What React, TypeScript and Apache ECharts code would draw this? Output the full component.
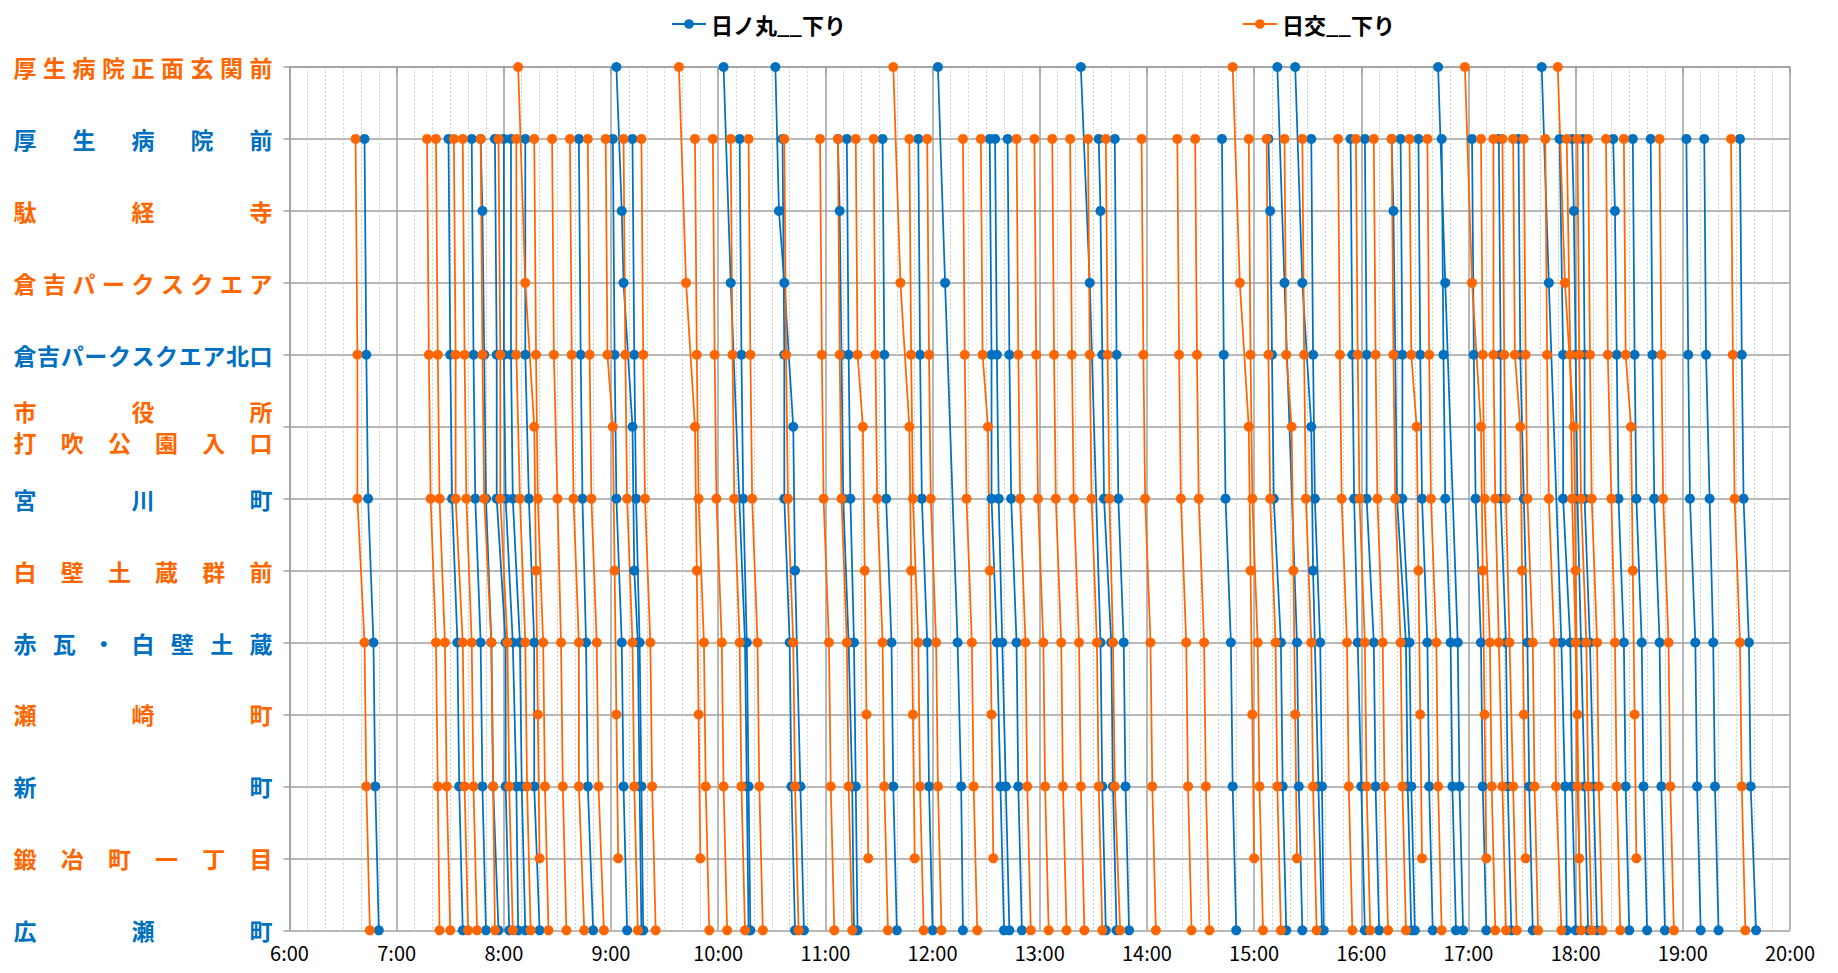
import React, { useEffect, useRef } from 'react';
import * as echarts from 'echarts';

// Stops (top → bottom) and the colour of each stop label
const STOPS = [
  '厚生病院正面玄関前',
  '厚生病院前',
  '駄経寺',
  '倉吉パークスクエア',
  '倉吉パークスクエア北口',
  '市役所\n打吹公園入口',
  '宮川町',
  '白壁土蔵群前',
  '赤瓦・白壁土蔵',
  '瀬崎町',
  '新町',
  '鍛冶町一丁目',
  '広瀬町',
];
const STOP_COLOR = ['o', 'b', 'o', 'o', 'b', 'o', 'b', 'o', 'b', 'o', 'b', 'o', 'b'];

const SERIES_NAMES = ['日ノ丸__下り', '日交__下り'];

// Each trip: "stopIndex@H:MM" for every stop that is served
const HINOMARU = [
  '1@6:42 4@6:43 6@6:44 8@6:47 10@6:48 12@6:50',
  '1@7:29 4@7:30 6@7:31 8@7:34 10@7:35 12@7:37',
  '1@7:42 4@7:43 6@7:44 8@7:47 10@7:48 12@7:50',
  '1@7:47 2@7:48 4@7:49 6@7:50 8@7:53 10@7:54 12@7:57',
  '1@7:55 4@7:56 6@7:56 8@8:01 10@8:01 12@8:03',
  '1@8:00 4@8:00 6@8:01 8@8:05 10@8:07 12@8:08',
  '1@8:04 4@8:04 6@8:05 8@8:09 10@8:10 12@8:12',
  '1@8:12 4@8:12 6@8:14 8@8:17 10@8:17 12@8:20',
  '1@8:42 4@8:43 6@8:44 8@8:46 10@8:47 12@8:50',
  '1@9:01 4@9:02 6@9:03 8@9:06 10@9:07 12@9:09',
  '0@9:03 2@9:06 3@9:07 5@9:12 7@9:13 8@9:15 10@9:16 12@9:17',
  '1@9:12 4@9:13 6@9:14 8@9:16 10@9:17 12@9:18',
  '0@10:03 3@10:07 8@10:15 10@10:16 12@10:17',
  '1@10:12 4@10:13 6@10:14 8@10:16 10@10:17 12@10:18',
  '0@10:32 2@10:34 3@10:37 5@10:42 7@10:43 10@10:46 12@10:48',
  '1@10:36 4@10:37 6@10:37 8@10:40 10@10:41 12@10:43',
  '1@11:07 2@11:08 4@11:09 6@11:10 8@11:13 10@11:15 12@11:16',
  '1@11:12 4@11:13 6@11:14 8@11:16 10@11:17 12@11:18',
  '1@11:32 4@11:33 6@11:34 8@11:37 10@11:38 12@11:40',
  '1@11:52 4@11:53 6@11:54 8@11:57 10@11:58 12@12:00',
  '0@12:03 3@12:07 8@12:14 10@12:16 12@12:17',
  '1@12:32 4@12:33 6@12:33 8@12:36 10@12:38 12@12:40',
  '1@12:35 4@12:36 6@12:37 8@12:39 10@12:41 12@12:43',
  '1@12:42 4@12:43 6@12:44 8@12:47 10@12:48 12@12:50',
  '0@13:23 3@13:28 8@13:34 10@13:35 12@13:37',
  '1@13:33 2@13:34 4@13:35 6@13:36 8@13:40 10@13:41 12@13:43',
  '1@13:42 4@13:43 6@13:44 8@13:47 10@13:48 12@13:50',
  '1@14:42 4@14:43 6@14:44 8@14:47 10@14:48 12@14:50',
  '1@15:08 2@15:09 4@15:10 6@15:11 8@15:15 10@15:16 12@15:18',
  '0@15:13 3@15:17 8@15:24 10@15:25 12@15:27',
  '0@15:23 3@15:27 5@15:32 7@15:33 10@15:36 12@15:38',
  '1@15:32 4@15:33 6@15:34 8@15:37 10@15:38 12@15:39',
  '1@15:54 4@15:55 6@15:56 8@15:58 10@16:00 12@16:02',
  '1@16:02 4@16:03 6@16:03 8@16:07 10@16:08 12@16:10',
  '1@16:17 2@16:18 4@16:19 6@16:20 8@16:25 10@16:26 12@16:28',
  '1@16:22 4@16:23 6@16:23 8@16:27 10@16:28 12@16:30',
  '1@16:32 4@16:33 6@16:34 8@16:37 10@16:38 12@16:40',
  '0@16:43 3@16:47 8@16:54 10@16:55 12@16:57',
  '1@16:45 4@16:46 6@16:47 8@16:50 10@16:51 12@16:53',
  '1@17:02 4@17:03 6@17:04 8@17:07 10@17:08 12@17:10',
  '1@17:17 4@17:18 6@17:18 8@17:21 10@17:22 12@17:24',
  '1@17:28 4@17:29 6@17:31 8@17:33 10@17:34 12@17:36',
  '0@17:41 3@17:45 8@17:52 10@17:54 12@17:55',
  '1@17:51 4@17:53 6@17:53 8@17:57 10@17:58 12@18:00',
  '1@17:58 2@17:59 4@18:00 6@18:01 8@18:03 10@18:05 12@18:07',
  '1@18:04 4@18:05 6@18:05 8@18:08 10@18:10 12@18:12',
  '1@18:21 2@18:22 4@18:23 6@18:24 8@18:27 10@18:28 12@18:30',
  '1@18:32 4@18:33 6@18:34 8@18:37 10@18:38 12@18:40',
  '1@18:42 4@18:43 6@18:44 8@18:47 10@18:48 12@18:50',
  '1@19:02 4@19:03 6@19:04 8@19:07 10@19:08 12@19:10',
  '1@19:12 4@19:13 6@19:15 8@19:17 10@19:18 12@19:20',
  '1@19:32 4@19:33 6@19:34 8@19:37 10@19:38 12@19:41',
];

const NIKKO = [
  '1@6:37 4@6:38 6@6:38 8@6:42 10@6:43 12@6:45',
  '1@7:17 4@7:18 6@7:19 8@7:22 10@7:23 12@7:24',
  '1@7:22 4@7:23 6@7:24 8@7:27 10@7:28 12@7:30',
  '1@7:32 4@7:33 6@7:33 8@7:37 10@7:38 12@7:40',
  '1@7:37 4@7:38 6@7:39 8@7:42 10@7:43 12@7:45',
  '1@7:47 4@7:48 6@7:49 8@7:53 10@7:54 12@7:55',
  '1@7:57 4@7:58 6@7:58 8@8:02 10@8:03 12@8:05',
  '1@8:07 4@8:07 6@8:09 8@8:12 10@8:13 12@8:15',
  '0@8:08 3@8:12 5@8:17 7@8:18 9@8:19 11@8:20',
  '1@8:17 4@8:18 6@8:19 8@8:22 10@8:23 12@8:25',
  '1@8:27 4@8:28 6@8:30 8@8:32 10@8:33 12@8:35',
  '1@8:37 4@8:38 6@8:39 8@8:42 10@8:42 12@8:45',
  '1@8:47 4@8:48 6@8:49 8@8:52 10@8:53 12@8:56',
  '1@8:57 4@8:58 5@9:01 7@9:02 9@9:03 11@9:04',
  '1@9:07 4@9:08 6@9:09 8@9:12 10@9:13 12@9:15',
  '1@9:17 4@9:18 6@9:19 8@9:22 10@9:23 12@9:25',
  '0@9:38 3@9:42 5@9:47 7@9:48 9@9:49 11@9:50',
  '1@9:47 4@9:48 6@9:49 8@9:52 10@9:53 12@9:55',
  '1@9:57 4@9:58 6@9:59 8@10:02 10@10:03 12@10:05',
  '1@10:07 4@10:08 6@10:09 8@10:12 10@10:13 12@10:15',
  '1@10:17 4@10:18 6@10:19 8@10:22 10@10:23 12@10:25',
  '1@10:37 4@10:38 6@10:39 8@10:42 10@10:43 12@10:45',
  '1@10:57 4@10:58 6@10:59 8@11:02 10@11:03 12@11:05',
  '1@11:07 4@11:08 6@11:09 8@11:12 10@11:13 12@11:15',
  '1@11:17 4@11:18 5@11:21 7@11:22 9@11:23 11@11:24',
  '1@11:27 4@11:28 6@11:29 8@11:32 10@11:33 12@11:35',
  '0@11:38 3@11:42 5@11:47 7@11:48 9@11:49 11@11:50',
  '1@11:47 4@11:48 6@11:49 8@11:52 10@11:53 12@11:55',
  '1@11:57 4@11:58 6@11:59 8@12:02 10@12:03 12@12:05',
  '1@12:17 4@12:18 6@12:19 8@12:22 10@12:23 12@12:25',
  '1@12:27 4@12:28 5@12:31 7@12:32 9@12:33 11@12:34',
  '1@12:47 4@12:48 6@12:49 8@12:52 10@12:53 12@12:55',
  '1@12:57 4@12:58 6@12:59 8@13:02 10@13:03 12@13:05',
  '1@13:07 4@13:08 6@13:09 8@13:12 10@13:13 12@13:15',
  '1@13:17 4@13:18 6@13:19 8@13:22 10@13:23 12@13:25',
  '1@13:27 4@13:28 6@13:29 8@13:32 10@13:33 12@13:35',
  '1@13:37 4@13:38 6@13:39 8@13:41 10@13:42 12@13:45',
  '1@13:57 4@13:58 6@13:59 8@14:02 10@14:03 12@14:05',
  '1@14:17 4@14:18 6@14:19 8@14:22 10@14:23 12@14:25',
  '1@14:27 4@14:28 6@14:29 8@14:32 10@14:33 12@14:35',
  '0@14:48 3@14:52 5@14:57 7@14:58 9@14:59 11@15:00',
  '1@14:57 4@14:58 6@14:59 8@15:02 10@15:03 12@15:05',
  '1@15:07 4@15:08 6@15:09 8@15:12 10@15:13 12@15:15',
  '1@15:17 4@15:18 5@15:21 7@15:22 9@15:23 11@15:24',
  '1@15:27 4@15:28 6@15:29 8@15:32 10@15:33 12@15:35',
  '1@15:47 4@15:48 6@15:49 8@15:52 10@15:53 12@15:55',
  '1@15:57 4@15:58 6@15:59 8@16:02 10@16:03 12@16:05',
  '1@16:07 4@16:08 6@16:09 8@16:12 10@16:13 12@16:15',
  '1@16:17 4@16:18 6@16:19 8@16:22 10@16:23 12@16:25',
  '1@16:27 4@16:28 5@16:31 7@16:32 9@16:33 11@16:34',
  '1@16:37 4@16:38 6@16:39 8@16:42 10@16:43 12@16:45',
  '0@16:58 3@17:02 5@17:07 7@17:08 9@17:09 11@17:10',
  '1@17:07 4@17:08 6@17:09 8@17:12 10@17:13 12@17:15',
  '1@17:14 4@17:14 6@17:15 8@17:17 10@17:19 12@17:21',
  '1@17:19 4@17:20 6@17:21 8@17:23 10@17:25 12@17:27',
  '1@17:25 4@17:26 5@17:29 7@17:30 9@17:31 11@17:32',
  '1@17:31 4@17:32 6@17:33 8@17:36 10@17:37 12@17:39',
  '1@17:43 4@17:44 6@17:45 8@17:48 10@17:49 12@17:52',
  '0@17:50 3@17:54 5@17:59 7@18:00 9@18:01 11@18:02',
  '1@17:55 4@17:57 6@17:58 8@18:00 10@18:01 12@18:03',
  '1@18:01 4@18:02 6@18:03 8@18:06 10@18:07 12@18:09',
  '1@18:07 4@18:08 6@18:09 8@18:12 10@18:13 12@18:15',
  '1@18:17 4@18:18 6@18:20 8@18:22 10@18:23 12@18:25',
  '1@18:27 4@18:28 5@18:31 7@18:32 9@18:33 11@18:34',
  '1@18:47 4@18:48 6@18:49 8@18:52 10@18:53 12@18:55',
  '1@19:27 4@19:28 6@19:29 8@19:32 10@19:33 12@19:35',
];

const X_MIN_HOUR = 6;
const X_MAX_HOUR = 20;

const BLUE = '#0070C0';
const ORANGE = '#FF6600';
const GRID = '#a0a0a0';
const CJK = '"Noto Sans CJK JP", "Noto Sans", sans-serif';

function toMinutes(t: string): number {
  const [h, m] = t.split(':').map(Number);
  return h * 60 + m;
}

function parseTrip(s: string): [number, number][] {
  return s
    .trim()
    .split(/\s+/)
    .map((tok) => {
      const [r, t] = tok.split('@');
      return [toMinutes(t), Number(r)] as [number, number];
    });
}

// justified (distributed) stop labels built with rich text
const FS = 23;
const LABEL_W = 259;
const rich: Record<string, any> = {};
const labelText: string[] = STOPS.map((stop, row) => {
  const color = STOP_COLOR[row] === 'o' ? ORANGE : BLUE;
  const lines = stop.split('\n');
  const lh = lines.length > 1 ? 31 : 30;
  return lines
    .map((line, li) => {
      const chars = Array.from(line);
      const n = chars.length;
      const gap = n > 1 ? (LABEL_W - n * FS) / (n - 1) : 0;
      const key = `c${row}x${li}`;
      const last = `e${row}x${li}`;
      const base = {
        fontSize: FS,
        fontWeight: 'bold',
        color,
        fontFamily: CJK,
        lineHeight: lh,
        height: lh,
        align: 'left',
        verticalAlign: 'middle',
      };
      rich[key] = { ...base, width: FS + gap };
      rich[last] = { ...base };
      return chars.map((c, i) => `{${i < n - 1 ? key : last}|${c}}`).join('');
    })
    .join('\n');
});

export default function App() {
  const ref = useRef<HTMLDivElement>(null);

  useEffect(() => {
    document.body.style.margin = '0';
    const chart = echarts.init(ref.current!, null, { renderer: 'svg' });

    const series: any[] = [];
    const groups: [string[], string, string][] = [
      [HINOMARU, SERIES_NAMES[0], BLUE],
      [NIKKO, SERIES_NAMES[1], ORANGE],
    ];
    groups.forEach(([trips, name, color]) => {
      trips.forEach((trip) => {
        series.push({
          type: 'line',
          name,
          data: parseTrip(trip),
          symbol: 'circle',
          symbolSize: 10,
          showSymbol: true,
          color,
          itemStyle: { color },
          lineStyle: { color, width: 1.75 },
          silent: true,
          animation: false,
        });
      });
    });

    chart.setOption({
      animation: false,
      backgroundColor: '#ffffff',
      legend: {
        data: SERIES_NAMES,
        top: 8,
        left: 666,
        itemGap: 396,
        itemWidth: 34,
        itemHeight: 12,
        textStyle: {
          fontSize: 22,
          fontWeight: 'bold',
          color: '#000',
          fontFamily: CJK,
        },
      },
      grid: { left: 289.5, right: 48, top: 67, bottom: 42.7, containLabel: false },
      xAxis: {
        type: 'value',
        min: X_MIN_HOUR * 60,
        max: X_MAX_HOUR * 60,
        interval: 60,
        axisLine: { show: true, lineStyle: { color: GRID, width: 1.5 } },
        axisTick: { show: true, length: 7, lineStyle: { color: GRID, width: 1.5 } },
        minorTick: { show: false, splitNumber: 6 },
        minorSplitLine: { show: true, lineStyle: { color: '#cfcfcf', type: [2, 2], width: 1 } },
        splitLine: { show: true, lineStyle: { color: GRID, width: 1.5 } },
        axisLabel: {
          margin: 12,
          fontSize: 20,
          color: '#000',
          fontFamily: CJK,
          formatter: (v: number) => `${Math.round(v / 60)}:00`,
        },
      },
      yAxis: {
        type: 'value',
        min: 0,
        max: STOPS.length - 1,
        interval: 1,
        inverse: true,
        axisLine: { show: true, lineStyle: { color: GRID, width: 1.5 } },
        axisTick: { show: true, length: 6, lineStyle: { color: GRID, width: 1.5 } },
        splitLine: { show: true, lineStyle: { color: GRID, width: 1.5 } },
        axisLabel: {
          margin: 17,
          formatter: (v: number) => labelText[v] ?? '',
          rich,
        },
      },
      series,
    });

    return () => chart.dispose();
  }, []);

  return <div ref={ref} style={{ width: 1838, height: 973 }} />;
}
